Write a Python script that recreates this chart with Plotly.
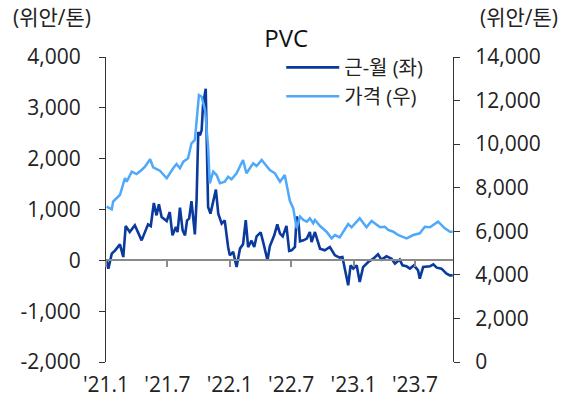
import plotly.graph_objects as go

# PVC spread (left axis, yuan/ton)
spread_dates = [
    "2021-01-03", "2021-01-08", "2021-01-18", "2021-01-28", "2021-02-11", "2021-02-21",
    "2021-02-28", "2021-03-12", "2021-03-27", "2021-04-16", "2021-05-05", "2021-05-13",
    "2021-05-22", "2021-05-30", "2021-06-06", "2021-06-14", "2021-06-29", "2021-07-08",
    "2021-07-16", "2021-07-26", "2021-07-31", "2021-08-07", "2021-08-15", "2021-08-22",
    "2021-08-28", "2021-09-03", "2021-09-10", "2021-09-20", "2021-09-25", "2021-09-30",
    "2021-10-05", "2021-10-10", "2021-10-14", "2021-10-22", "2021-10-29", "2021-11-05",
    "2021-11-21", "2021-11-28", "2021-12-08", "2021-12-17", "2021-12-27", "2022-01-01",
    "2022-01-11", "2022-01-21", "2022-01-31", "2022-02-09", "2022-02-17", "2022-02-24",
    "2022-03-06", "2022-03-14", "2022-03-21", "2022-04-02", "2022-04-11", "2022-04-22",
    "2022-04-29", "2022-05-12", "2022-05-21", "2022-05-29", "2022-06-06", "2022-06-17",
    "2022-06-25", "2022-07-02", "2022-07-12", "2022-07-17", "2022-07-22", "2022-07-27",
    "2022-08-06", "2022-08-16", "2022-08-25", "2022-08-30", "2022-09-09", "2022-09-14",
    "2022-09-24", "2022-10-08", "2022-10-23", "2022-11-07", "2022-11-21", "2022-11-29",
    "2022-12-06", "2022-12-16", "2022-12-23", "2022-12-31", "2023-01-10", "2023-01-19",
    "2023-01-29", "2023-02-13", "2023-02-28", "2023-03-14", "2023-03-24", "2023-04-08",
    "2023-04-23", "2023-05-03", "2023-05-17", "2023-05-25", "2023-06-06", "2023-06-16",
    "2023-06-28", "2023-07-10", "2023-07-15", "2023-07-25", "2023-08-14", "2023-08-24",
    "2023-09-03", "2023-09-17", "2023-10-02", "2023-10-12", "2023-10-20",
]
spread = [
    -14, -163, 132, 197, 315, 65,
    675, 557, 689, 393, 708, 675,
    1127, 885, 1102, 852, 773, 950,
    492, 655, 557, 1037, 590, 492,
    787, 820, 1166, 511, 1180, 2524,
    2459, 2557, 3049, 3377, 1048, 919,
    1391, 919, 722, 787, 262, 98,
    167, -132, 230, 315, 793, 262,
    387, 262, 472, 551, 315, 0,
    275, 492, 708, 525, 472, 679,
    187, 197, 262, 860, 787, 374,
    393, 427, 557, 360, 557, 458,
    230, 197, 262, 98, 53, 65,
    -163, -492, -98, -163, -98, -427,
    -132, -33, 33, 118, 14, 79,
    33, -65, 14, -98, -118, -163,
    -98, -197, -360, -132, -118, -79,
    -144, -163, -262, -295, -295,
]

# PVC price (right axis, yuan/ton)
price_dates = [
    "2021-01-03", "2021-01-18", "2021-01-22", "2021-02-11", "2021-02-26", "2021-03-03",
    "2021-03-18", "2021-04-01", "2021-04-16", "2021-04-26", "2021-05-11", "2021-05-20",
    "2021-06-09", "2021-06-29", "2021-07-18", "2021-07-28", "2021-08-07", "2021-08-17",
    "2021-08-31", "2021-09-10", "2021-09-20", "2021-10-02", "2021-10-10", "2021-10-20",
    "2021-10-29", "2021-11-03", "2021-11-13", "2021-11-23", "2021-12-03", "2021-12-17",
    "2021-12-27", "2022-01-06", "2022-01-21", "2022-02-09", "2022-02-19", "2022-03-11",
    "2022-03-21", "2022-04-05", "2022-04-29", "2022-05-14", "2022-05-29", "2022-06-12",
    "2022-06-27", "2022-07-07", "2022-07-17", "2022-07-27", "2022-08-06", "2022-08-16",
    "2022-08-25", "2022-09-04", "2022-09-09", "2022-09-24", "2022-10-13", "2022-10-28",
    "2022-11-07", "2022-11-21", "2022-12-16", "2022-12-26", "2023-01-19", "2023-02-08",
    "2023-02-23", "2023-03-20", "2023-04-03", "2023-04-13", "2023-04-28", "2023-05-12",
    "2023-06-06", "2023-06-26", "2023-07-15", "2023-07-30", "2023-08-14", "2023-09-07",
    "2023-09-27", "2023-10-12", "2023-10-20",
]
price = [
    7128, 7009, 7358, 7665, 8446, 8276,
    8735, 8629, 8813, 8964, 9304, 8937,
    8781, 8432, 8891, 9088, 8891, 9194,
    9350, 10038, 10190, 12255, 12177, 11567,
    9882, 8202, 8735, 8583, 8202, 8276,
    8505, 8386, 8661, 9272, 8661, 9120,
    8996, 9272, 8813, 8661, 8276, 8583,
    7400, 7055, 6137, 6669, 6518, 6440,
    6596, 6366, 6518, 6242, 5981, 5678,
    5829, 5724, 6334, 6183, 6596, 6183,
    6472, 6183, 6210, 6059, 5981, 5829,
    5678, 5829, 5907, 6210, 6183, 6440,
    6137, 5981, 5981,
]

tick_vals = ["2021-01-01", "2021-07-01", "2022-01-01", "2022-07-01", "2023-01-01", "2023-07-01"]
tick_text = ["'21.1", "'21.7", "'22.1", "'22.7", "'23.1", "'23.7"]
x_range = ["2021-01-01", "2023-10-21"]

left_vals = [-2000, -1000, 0, 1000, 2000, 3000, 4000]
left_text = ["-2,000", "-1,000", "0", "1,000", "2,000", "3,000", "4,000"]

FONT = "Open Sans, Noto Sans CJK KR"
DARK = "#0a3a9c"
LIGHT = "#4ea8fb"

fig = go.Figure()
fig.add_trace(go.Scatter(x=spread_dates, y=spread, name="근-월 (좌)", mode="lines",
                         line=dict(color=DARK, width=2.6), legendgroup="a"))
fig.add_trace(go.Scatter(x=price_dates, y=price, name="가격 (우)", mode="lines",
                         line=dict(color=LIGHT, width=2.5), yaxis="y2", legendgroup="b"))
# give the overlay axis something to hang on
fig.add_trace(go.Scatter(x=x_range, y=[None, None], xaxis="x2", showlegend=False,
                         hoverinfo="skip"))

axis_font = dict(family=FONT, size=21, color="#222")

fig.update_layout(
    width=569, height=403,
    margin=dict(l=106, r=116, t=57, b=41, autoexpand=False),
    plot_bgcolor="white", paper_bgcolor="white",
    font=dict(family=FONT, size=20, color="#222"),
    title=dict(text="PVC", x=0.503, xanchor="center", y=0.905, yanchor="middle",
               font=dict(family=FONT, size=24, color="#111")),
    xaxis=dict(range=x_range, tickvals=tick_vals, ticktext=tick_text, showgrid=False,
               showline=False, zeroline=False, ticks="", tickfont=axis_font,
               ticklabelstandoff=8, automargin=False),
    xaxis2=dict(range=x_range, tickvals=tick_vals, showticklabels=False, overlaying="x",
                anchor="free", position=1 / 3, showgrid=False, showline=True,
                linecolor="#8a8a8a", linewidth=2, ticks="outside", ticklen=6,
                tickcolor="#8a8a8a", tickwidth=1.5, zeroline=False, automargin=False),
    yaxis=dict(range=[-2000, 4000], tickvals=left_vals, ticktext=left_text, showgrid=False,
               zeroline=False, showline=True, linecolor="#333", linewidth=1,
               ticks="outside", ticklen=6, tickcolor="#333", tickfont=axis_font,
               ticklabelstandoff=14, automargin=False),
    yaxis2=dict(range=[0, 14000], dtick=2000, tickformat=",", overlaying="y", side="right",
                showgrid=False, zeroline=False, showline=True, linecolor="#333",
                linewidth=1, ticks="outside", ticklen=6, tickcolor="#333",
                tickfont=axis_font, ticklabelstandoff=11, automargin=False),
    legend=dict(x=0.505, y=1.03, xanchor="left", yanchor="top", bgcolor="rgba(0,0,0,0)",
                font=dict(family=FONT, size=20, color="#222"), tracegroupgap=0,
                itemwidth=53),
    showlegend=True,
    annotations=[
        dict(text="(위안/톤)", xref="paper", yref="paper", x=-0.155, y=1.13,
             xanchor="center", yanchor="middle", showarrow=False,
             font=dict(family=FONT, size=21, color="#222")),
        dict(text="(위안/톤)", xref="paper", yref="paper", x=1.19, y=1.13,
             xanchor="center", yanchor="middle", showarrow=False,
             font=dict(family=FONT, size=21, color="#222")),
    ],
)

# drop the browser's default body margin so the figure sits at (0, 0)
fig.write_html("out.html", config={"displayModeBar": False},
               post_script="document.body.style.margin='0';")
